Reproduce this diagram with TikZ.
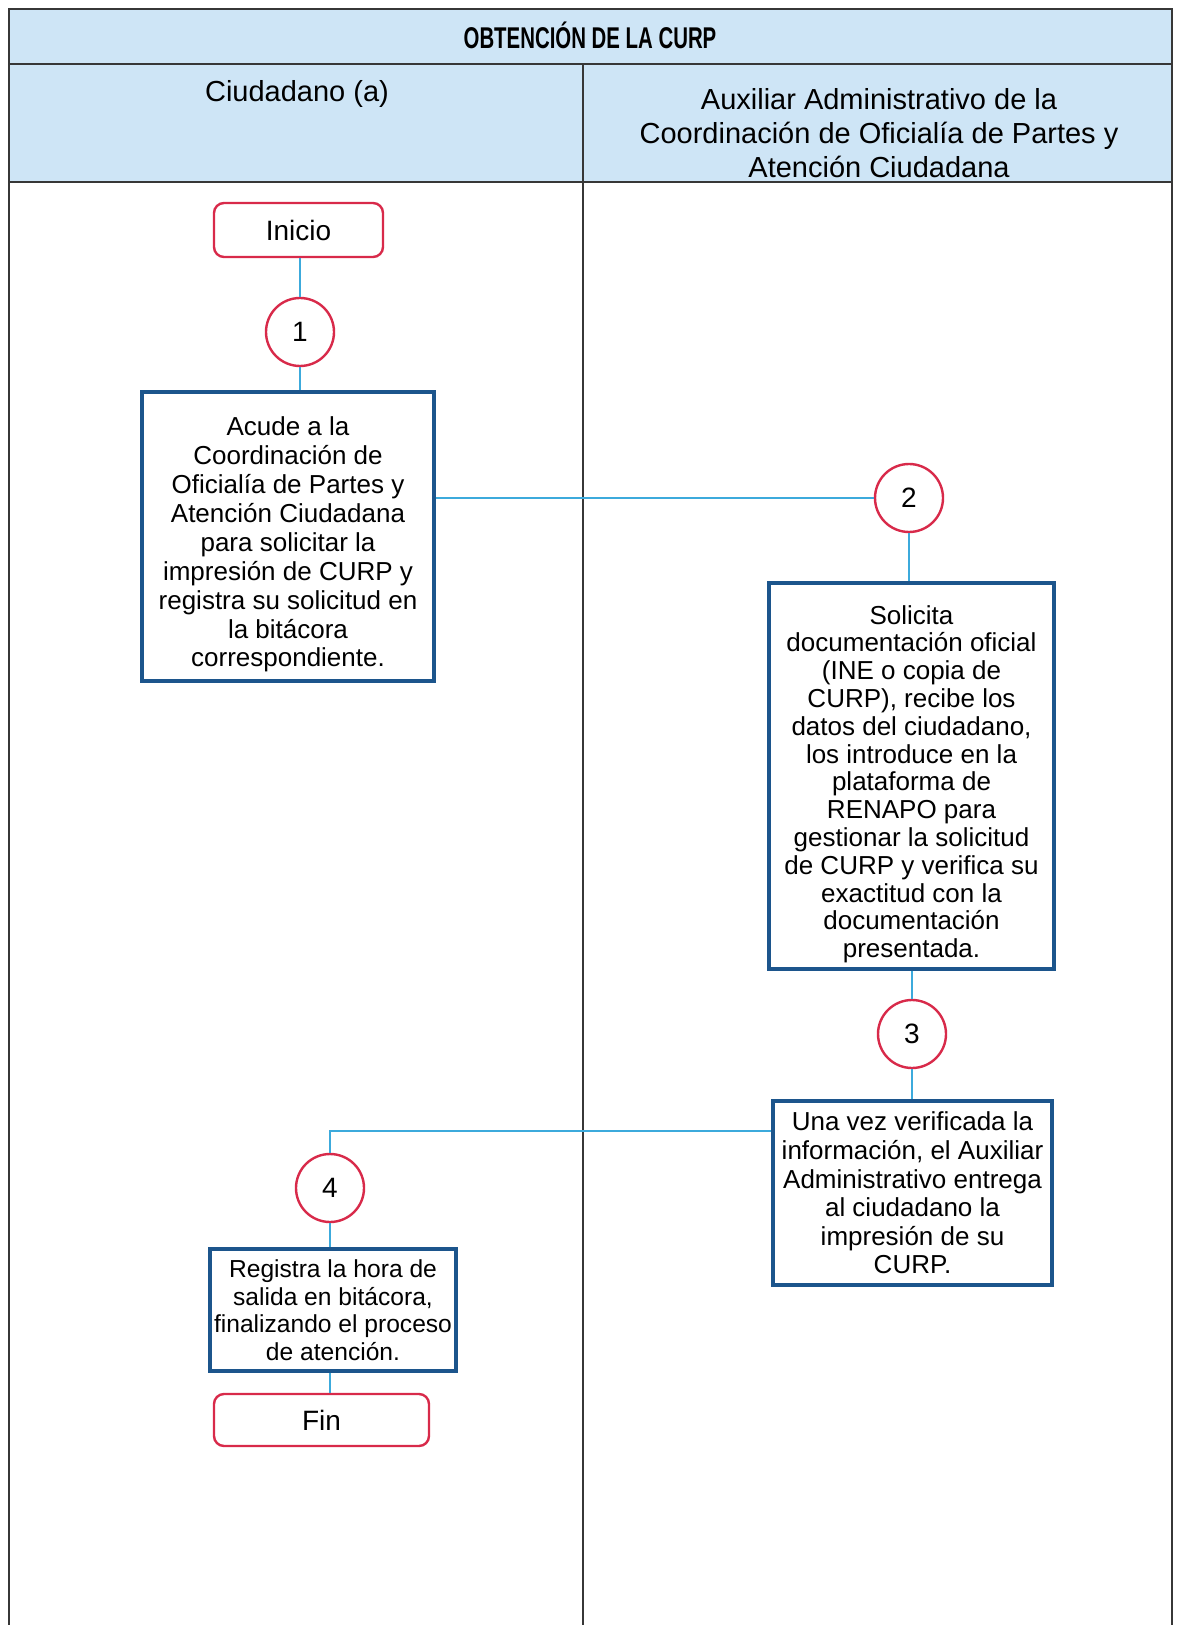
\documentclass[tikz,border=0pt]{standalone}
\usepackage{fontspec}
\setmainfont{Liberation Sans}
\newfontfamily\titlefont[FakeStretch=0.68]{Liberation Sans}
\usepackage{tikz}
\usetikzlibrary{positioning,calc}
\definecolor{hdrblue}{RGB}{206,229,246}
\definecolor{boxblue}{RGB}{28,85,140}
\definecolor{termred}{RGB}{216,42,74}
\definecolor{linkblue}{RGB}{60,170,220}
\definecolor{gridgray}{RGB}{55,55,55}
\newcommand{\padtop}{\rule{0pt}{17.5pt}}
\tikzset{terminal/.style={rectangle,rounded corners=5pt,draw=termred,line width=1.2pt,fill=white,font=\fontsize{14}{17}\selectfont}}
\tikzset{stepnum/.style={circle,draw=termred,line width=1.2pt,fill=white,minimum size=34pt,inner sep=0pt,font=\fontsize{14}{17}\selectfont}}
\tikzset{task/.style={rectangle,draw=boxblue,line width=1.6pt,fill=white,align=center,inner sep=2pt,font=\fontsize{13}{14.3}\selectfont}}
\tikzset{lanehead/.style={align=center,font=\fontsize{14.5}{17}\selectfont}}
\tikzset{link/.style={draw=linkblue,line width=0.8pt}}
\tikzset{lane/.style={draw=gridgray,line width=0.9pt}}

\begin{document}
\begin{tikzpicture}[x=0.5pt,y=-0.5pt]
  \useasboundingbox (0,0) rectangle (1176,1625);
  \fill[hdrblue] (9,9) rectangle (1172,182);
  \draw[lane] (9,1625) -- (9,9) -- (1172,9) -- (1172,1625);
  \draw[lane] (9,64) -- (1172,64) (9,182) -- (1172,182) (583,64) -- (583,1625);
  \node[font=\titlefont\bfseries\fontsize{15}{18}\selectfont] (title) at (590,35) {OBTENCIÓN DE LA CURP};
  \node[lanehead] (citizen) at (297,94) {Ciudadano (a)};
  \node[lanehead] (clerk) at (879,133) {Auxiliar Administrativo de la\\Coordinación de Oficialía de Partes y\\Atención Ciudadana};

  \node[terminal,minimum width=84.5pt,minimum height=27pt] (start) at (298.5,230) {Inicio};
  \node[stepnum] (s1) at (300,332) {1};
  \node[task,minimum width=146pt,minimum height=144.5pt,font=\fontsize{13}{14.45}\selectfont] (a1) at (288,536.5) {\padtop Acude a la\\Coordinación de\\Oficialía de Partes y\\Atención Ciudadana\\para solicitar la\\impresión de CURP y\\registra su solicitud en\\la bitácora\\correspondiente.};
  \node[stepnum] (s2) at (909,498) {2};
  \node[task,minimum width=142.5pt,minimum height=193pt,font=\fontsize{13}{13.9}\selectfont] (a2) at (911.5,776) {\padtop Solicita\\documentación oficial\\(INE o copia de\\CURP), recibe los\\datos del ciudadano,\\los introduce en la\\plataforma de\\RENAPO para\\gestionar la solicitud\\de CURP y verifica su\\exactitud con la\\documentación\\presentada.};
  \node[stepnum] (s3) at (912,1034) {3};
  \node[task,minimum width=139.5pt,minimum height=92pt] (a3) at (912.5,1193) {Una vez verificada la\\información, el Auxiliar\\Administrativo entrega\\al ciudadano la\\impresión de su\\CURP.};
  \node[stepnum] (s4) at (330,1188) {4};
  \node[task,minimum width=121pt,minimum height=61pt,font=\fontsize{12.3}{13.8}\selectfont] (a4) at (333,1310) {Registra la hora de\\salida en bitácora,\\finalizando el proceso\\de atención.};
  \node[terminal,minimum width=107.5pt,minimum height=26pt] (end) at (321.5,1420) {Fin};
  \coordinate (turn) at (330,1131);

  \draw[link] (s1 |- start.south) -- (s1.north);
  \draw[link] (s1.south) -- (s1 |- a1.north);
  \draw[link] (a1.east |- s2) -- (s2.west);
  \draw[link] (s2.south) -- (s2 |- a2.north);
  \draw[link] (s3 |- a2.south) -- (s3.north);
  \draw[link] (s3.south) -- (s3 |- a3.north);
  \draw[link] (a3.west |- turn) -- (turn) -- (s4.north);
  \draw[link] (s4.south) -- (s4 |- a4.north);
  \draw[link] (s4 |- a4.south) -- (s4 |- end.north);
\end{tikzpicture}
\end{document}
